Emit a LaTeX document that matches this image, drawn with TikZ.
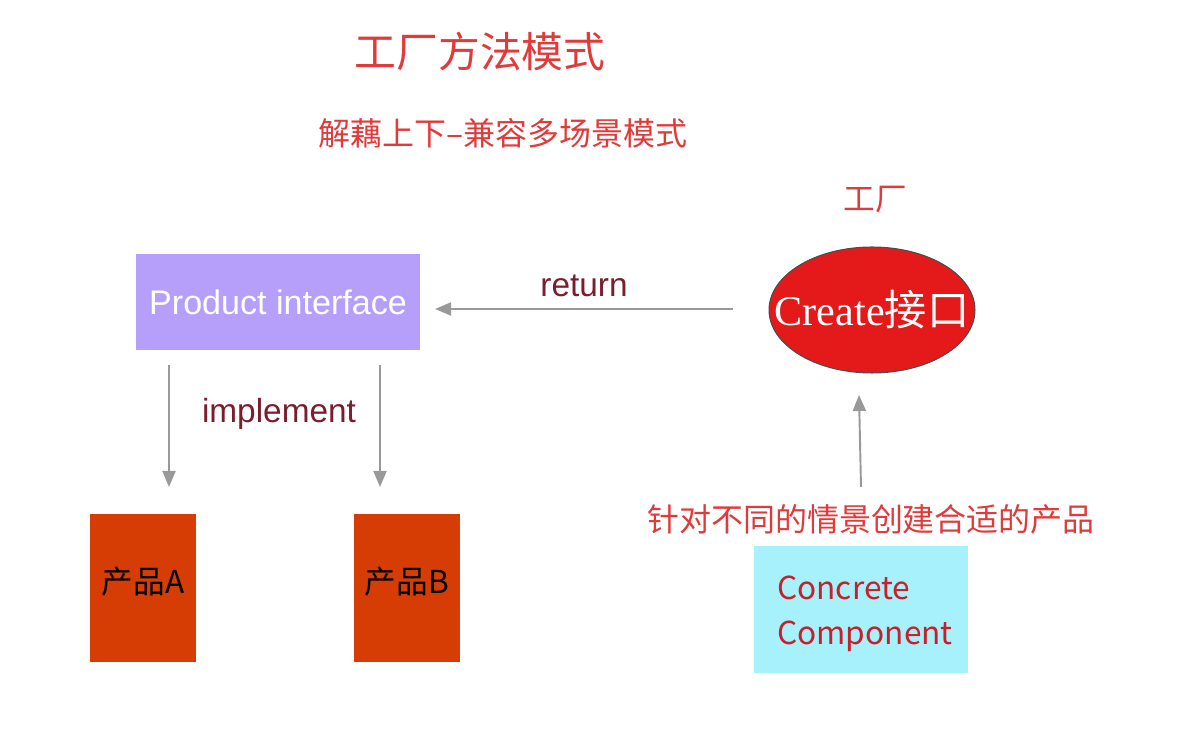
\documentclass[tikz,border=0pt]{standalone}
\usepackage{fontspec}
\setmainfont{Liberation Sans}
\newfontfamily\cjk{Noto Sans CJK SC}
\newfontfamily\serifrm{Liberation Serif}
\usetikzlibrary{arrows.meta,shapes.geometric}
\definecolor{titlered}{RGB}{224,58,58}
\definecolor{ifpurple}{RGB}{182,159,251}
\definecolor{labelred}{RGB}{122,30,46}
\definecolor{ovalred}{RGB}{228,25,25}
\definecolor{prodorange}{RGB}{214,61,4}
\definecolor{ccyan}{RGB}{167,241,253}
\definecolor{cctext}{RGB}{200,32,42}
\definecolor{arrowgray}{RGB}{153,153,153}

\begin{document}
\begin{tikzpicture}[x=0.02cm,y=-0.02cm,
  flow/.style={draw=arrowgray,line width=1.1pt,-{Triangle[length=0.32cm,width=0.26cm]}},
  prodbox/.style={fill=prodorange,minimum width=2.12cm,minimum height=2.96cm,inner sep=0pt,text depth=0.3cm,font=\cjk\fontsize{18}{21}\selectfont}]
\useasboundingbox (0,0) rectangle (1180,732);
% titles
\node[titlered,font=\cjk\fontsize{23.8}{28}\selectfont] (title) at (480,52) {工厂方法模式};
\node[titlered,font=\cjk\fontsize{18.2}{22}\selectfont] (subtitle) at (503,133) {解藕上下–兼容多场景模式};
\node[titlered,font=\cjk\fontsize{18}{22}\selectfont] (factory) at (875,200) {工厂};
% product side
\node[fill=ifpurple,minimum width=5.68cm,minimum height=1.92cm,inner sep=0pt,text=white,font=\fontsize{19.4}{22}\selectfont] (pi) at (278,302) {Product interface};
\node[prodbox] (pa) at (143,588) {产品A};
\node[prodbox] (pb) at (407,588) {产品B};
\node[labelred,font=\fontsize{19}{22}\selectfont] (impl) at (279,414) {implement};
% factory side
\node[ellipse,draw=black!70,line width=0.6pt,fill=ovalred,minimum width=4.12cm,minimum height=2.52cm,inner sep=0pt,text=white] (create) at (872,310) {\makebox[0pt]{\serifrm\fontsize{24}{28}\selectfont Create\cjk 接口}};
\node[labelred,font=\fontsize{19}{22}\selectfont] (ret) at (584,286) {return};
\node[titlered,font=\cjk\fontsize{18.2}{22}\selectfont] (hint) at (871,519) {针对不同的情景创建合适的产品};
\node[fill=ccyan,minimum width=4.28cm,minimum height=2.54cm,inner sep=0pt] (cc) at (861,609.5) {};
\node[cctext,anchor=west,align=left,inner sep=0pt,font=\cjk\fontsize{18}{25.5}\selectfont] (cclabel) at (777,614) {Concrete\\Component};
% arrow ends
\coordinate (retstart) at (733,309);
\coordinate (retend) at (435,309);
\coordinate (astart) at (169,365);
\coordinate (aend) at (169,487);
\coordinate (bstart) at (380,365);
\coordinate (bend) at (380,487);
\coordinate (upstart) at (861,487);
\coordinate (upend) at (859,395);
\draw[flow] (retstart) -- (retend);
\draw[flow] (astart) -- (aend);
\draw[flow] (bstart) -- (bend);
\draw[flow] (upstart) -- (upend);
\end{tikzpicture}
\end{document}
